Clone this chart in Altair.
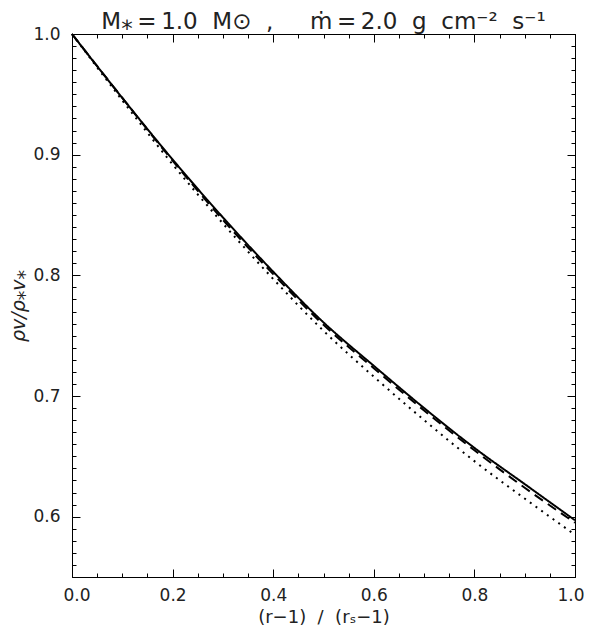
import altair as alt
import pandas as pd

# ---- data ----
x_vals = [0.0, 0.1, 0.2, 0.3, 0.4, 0.5, 0.6, 0.7, 0.8, 0.9, 1.0]
solid_vals = [1.000, 0.947, 0.896, 0.848, 0.803, 0.761, 0.725, 0.690, 0.657, 0.627, 0.597]
dashed_vals = [1.000, 0.947, 0.895, 0.846, 0.801, 0.759, 0.723, 0.688, 0.655, 0.624, 0.595]
dotted_vals = [1.000, 0.945, 0.892, 0.843, 0.797, 0.754, 0.716, 0.680, 0.646, 0.615, 0.585]

series_names = ["solid", "dashed", "dotted"]

x_major = [0.0, 0.2, 0.4, 0.6, 0.8, 1.0]
x_minor = [0.0, 0.05, 0.1, 0.15, 0.2, 0.25, 0.3, 0.35, 0.4, 0.45, 0.5,
           0.55, 0.6, 0.65, 0.7, 0.75, 0.8, 0.85, 0.9, 0.95, 1.0]
y_major = [0.6, 0.7, 0.8, 0.9, 1.0]
y_minor = [round(0.55 + 0.01 * i, 2) for i in range(46)]

rows = []
for name, vals in zip(series_names, [solid_vals, dashed_vals, dotted_vals]):
    for xv, yv in zip(x_vals, vals):
        rows.append({"x": xv, "y": yv, "series": name})
df = pd.DataFrame(rows)

W, H = 503, 543
FONT = "DejaVu Sans"
TXT = "#222222"
NB = "\u00a0"
TH = "\u2009"

title_text = ("M⁎" + TH + "=" + TH + "1.0" + NB * 2 + "M⊙" + NB * 2 + "," + NB * 5 +
              "ṁ" + TH + "=" + TH + "2.0" + NB * 2 + "g" + NB * 2 + "cm⁻²" + NB * 2 + "s⁻¹")
xtitle_text = "(r−1)" + NB * 2 + "/" + NB * 2 + "(rₛ−1)"

xs = alt.Scale(domain=[0, 1], nice=False, zero=False)
ys = alt.Scale(domain=[0.55, 1.0], nice=False, zero=False)


def tick_axis(orient, offset, values, size, domain=False):
    return alt.Axis(orient=orient, offset=offset, values=values, tickSize=size,
                    labels=False, domain=domain, domainColor="black", domainWidth=1,
                    tickColor="black", tickWidth=1, grid=False, title=None)


lines = alt.Chart(df).mark_line(interpolate="monotone", color="black", strokeWidth=2).encode(
    x=alt.X("x:Q", scale=xs,
            axis=alt.Axis(orient="bottom", values=x_major, format=".1f", tickSize=0,
                          labelFont=FONT, labelFontSize=17, labelColor=TXT, labelPadding=10,
                          labelFlush=True, labelFlushOffset=9,
                          domain=True, domainColor="black", domainWidth=1, grid=False,
                          title=xtitle_text, titleFont=FONT, titleFontSize=18,
                          titleFontWeight="normal", titleColor=TXT, titlePadding=5)),
    y=alt.Y("y:Q", scale=ys,
            axis=alt.Axis(orient="left", values=y_major, format=".1f", tickSize=0,
                          labelFont=FONT, labelFontSize=17, labelColor=TXT, labelPadding=12,
                          labelFlush=False,
                          domain=True, domainColor="black", domainWidth=1, grid=False,
                          title="ρv/ρ⁎v⁎", titleFont=FONT, titleFontSize=19,
                          titleFontStyle="italic", titleFontWeight="normal",
                          titleColor=TXT, titlePadding=4)),
    strokeDash=alt.StrokeDash("series:N",
                              scale=alt.Scale(domain=series_names,
                                              range=[[1, 0], [10, 6], [2, 5]]),
                              legend=None),
    detail="series:N",
)


def ghost(xaxis, yaxis):
    return alt.Chart(df).mark_point(opacity=0).encode(
        x=alt.X("x:Q", scale=xs, axis=xaxis),
        y=alt.Y("y:Q", scale=ys, axis=yaxis),
    )


layers = [
    lines,
    ghost(tick_axis("top", -H, x_major, 8), tick_axis("right", -W, y_major, 8)),
    ghost(tick_axis("top", -H, x_minor, 4), tick_axis("right", -W, y_minor, 4)),
    ghost(tick_axis("bottom", -H, x_major, 8, True), tick_axis("left", -W, y_major, 8, True)),
    ghost(tick_axis("bottom", -H, x_minor, 4), tick_axis("left", -W, y_minor, 4)),
]

chart = alt.layer(*layers).resolve_axis(x="independent", y="independent").properties(
    width=W, height=H,
    autosize=alt.AutoSizeParams(type="none"),
    padding={"left": 64, "top": 26, "right": 9, "bottom": 54},
    title=alt.TitleParams(text=title_text, font=FONT, fontSize=23,
                          fontWeight="normal", color=TXT, anchor="middle", offset=6, dy=15),
).configure_view(stroke=None)

chart.save("out.html", embed_options={"renderer": "svg", "actions": False})
